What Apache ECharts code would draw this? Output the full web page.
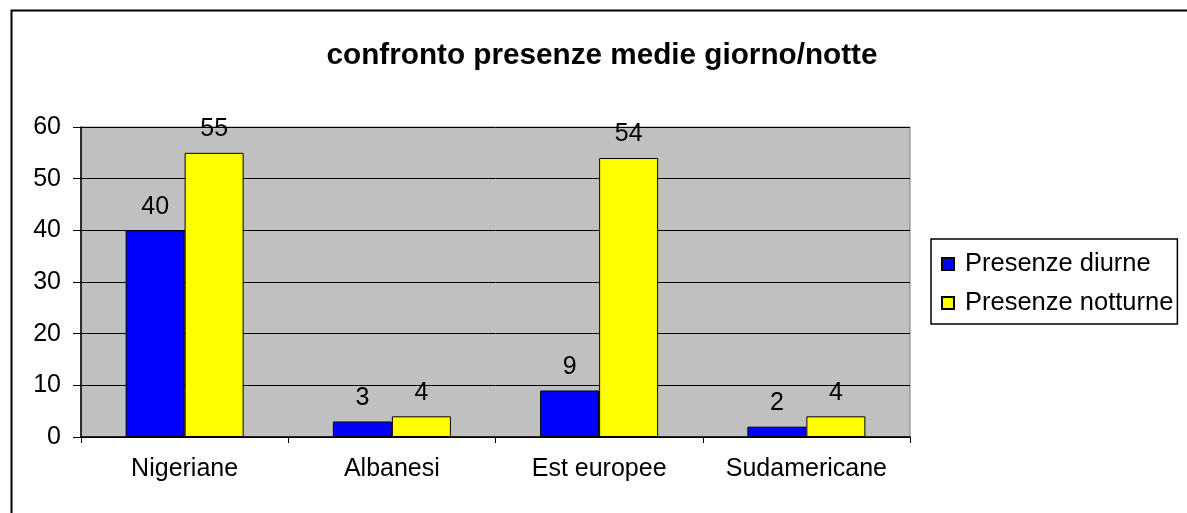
<!DOCTYPE html>
<html>
<head>
<meta charset="utf-8">
<script src="https://cdn.jsdelivr.net/npm/echarts@6/dist/echarts.min.js"></script>
<style>html,body{margin:0;padding:0;background:#fff}#c{width:1187px;height:513px}</style>
</head>
<body>
<div id="c"></div>
<script>
const categories = ['Nigeriane', 'Albanesi', 'Est europee', 'Sudamericane'];
const diurne = [40, 3, 9, 2];
const notturne = [55, 4, 54, 4];
const seriesNames = ['Presenze diurne', 'Presenze notturne'];
const titleText = 'confronto presenze medie giorno/notte';

const chart = echarts.init(document.getElementById('c'));
const F = '"Liberation Sans", Arial, sans-serif';
const labelCfg = {show: true, position: 'top', distance: 11, color: '#000', fontFamily: F, fontSize: 25};
chart.setOption({
  animation: false,
  backgroundColor: '#fff',
  graphic: [{type: 'rect', left: 9, top: 8, shape: {width: 1300, height: 700}, style: {fill: 'none', stroke: '#000', lineWidth: 2}, silent: true}],
  title: {text: titleText, left: 597, textAlign: 'center', top: 36, textStyle: {fontFamily: F, fontSize: 29.7, fontWeight: 'bold', color: '#000'}},
  legend: {
    orient: 'vertical', left: 931, top: 239, padding: [12, 4, 8, 10],
    borderColor: '#000', borderWidth: 1.5, backgroundColor: '#fff',
    itemWidth: 12, itemHeight: 12, itemGap: 13, icon: 'rect',
    textStyle: {fontFamily: F, fontSize: 25.5, color: '#000', padding: [0, 0, 0, 6]},
    data: seriesNames
  },
  grid: {left: 81, top: 127, width: 829, height: 310, show: true, backgroundColor: '#C0C0C0', borderColor: '#808080', borderWidth: 1},
  xAxis: {
    type: 'category', data: categories,
    axisLine: {lineStyle: {color: '#000', width: 1.5}},
    axisTick: {show: true, length: 6, lineStyle: {color: '#000'}},
    axisLabel: {color: '#000', fontFamily: F, fontSize: 25, margin: 20, interval: 0}
  },
  yAxis: {
    type: 'value', min: 0, max: 60, interval: 10,
    axisLine: {show: true, lineStyle: {color: '#000', width: 1.5}},
    axisTick: {show: true, length: 8, lineStyle: {color: '#000'}},
    axisLabel: {color: '#000', fontFamily: F, fontSize: 25, margin: 20},
    splitLine: {lineStyle: {color: '#000', width: 1}}
  },
  series: [
    {name: seriesNames[0], type: 'bar', data: diurne, barWidth: 59, barGap: '0%',
     itemStyle: {color: '#0000FF', borderColor: '#000', borderWidth: 1}, label: labelCfg},
    {name: seriesNames[1], type: 'bar', data: notturne, barWidth: 59, barGap: '0%',
     itemStyle: {color: '#FFFF00', borderColor: '#000', borderWidth: 1}, label: labelCfg}
  ]
});
</script>
</body>
</html>
